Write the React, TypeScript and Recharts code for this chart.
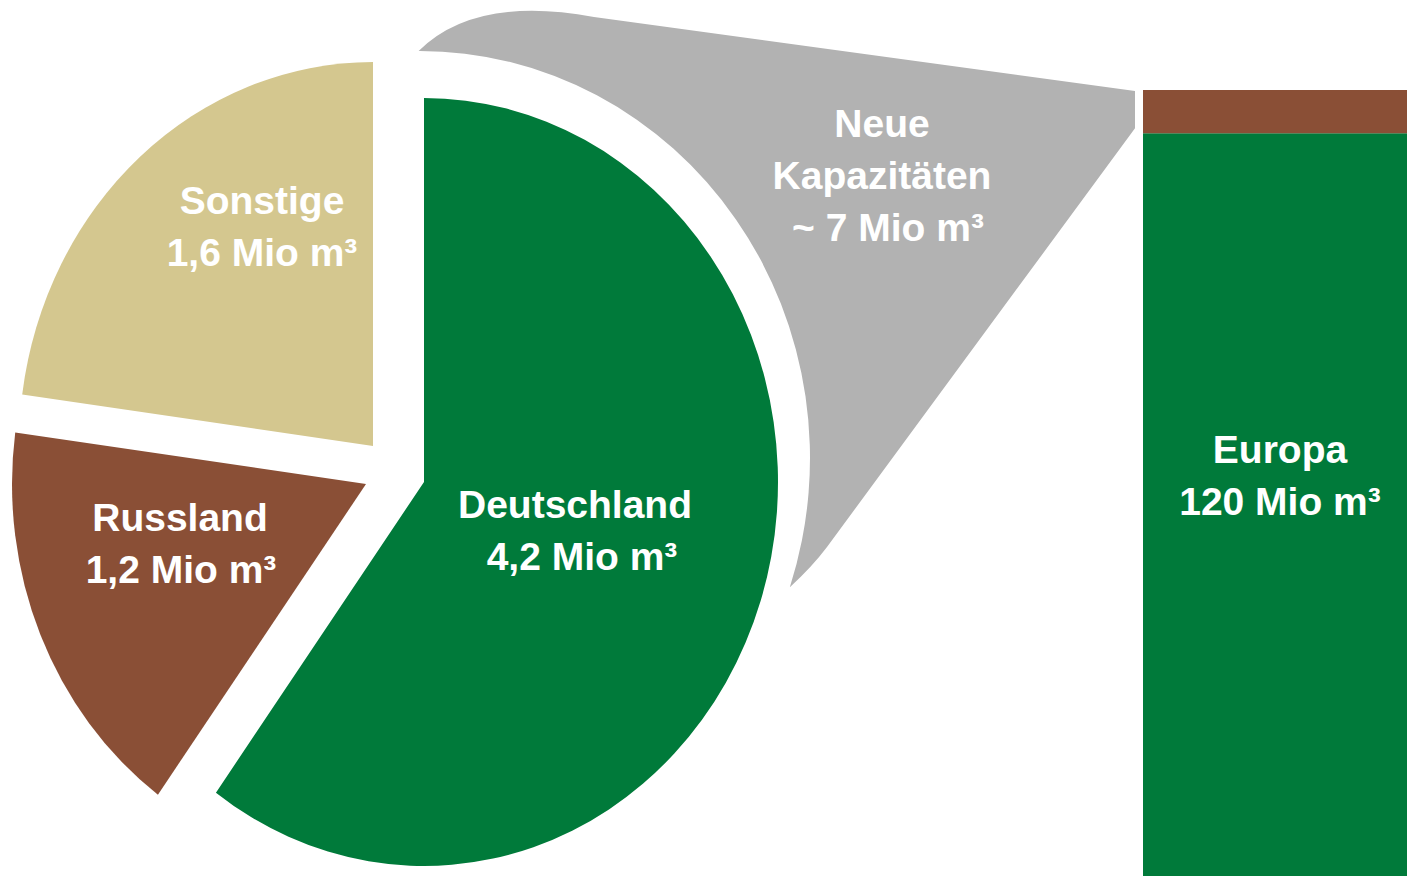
import React from 'react';
import { PieChart, Pie, Cell, BarChart, Bar, XAxis, YAxis, LabelList, Customized } from 'recharts';

// pie: Aufteilung der neuen Kapazitäten (Mio m³)
const SLICE_NAMES = ['Deutschland', 'Russland', 'Sonstige'];
const SLICE_VALUES = [4.2, 1.2, 1.6];
const SLICE_VALUE_LABELS = ['4,2 Mio m³', '1,2 Mio m³', '1,6 Mio m³'];

// connector label
const NEW_CAPACITY_LINES = ['Neue', 'Kapazitäten', '~ 7 Mio m³'];

// bar: Europa
const BAR_CATEGORIES = ['Europa'];
const BAR_EXISTING = [120];
const BAR_NEW = [7];
const BAR_LABEL_LINES = ['Europa', '120 Mio m³'];

const GREEN = '#007A3A';
const BROWN = '#8A4F36';
const TAN = '#D4C78F';
const GRAY = '#B2B2B2';

const SLICE_COLORS: Record<string, string> = {
  Deutschland: GREEN,
  Russland: BROWN,
  Sonstige: TAN,
};

// exploded slices (px)
const SLICE_OFFSET: Record<string, [number, number]> = {
  Deutschland: [0, 0],
  Russland: [-58, 2],
  Sonstige: [-51, -36],
};

// label anchors: centre x, first baseline, x shift of second line
const LABEL_POS: Record<string, { x: number; y: number; dx2: number }> = {
  Deutschland: { x: 575, y: 518, dx2: 7 },
  Russland: { x: 180, y: 531, dx2: 1 },
  Sonstige: { x: 262, y: 214, dx2: 0 },
};

const W = 1407;
const H = 876;
const PIE_CX = 424;
const PIE_CY = 482;
const PIE_R = 384;
const PIE_X_SCALE = 354 / 384;
const BAR_LEFT = 1143;
const BAR_WIDTH = 274;
const BAR_TOP = 90;
const LINE = 52;

const FONT = {
  fontFamily: '"Liberation Sans", Arial, sans-serif',
  fontWeight: 700,
  fontSize: 39,
  fill: '#fff',
};

const pieData = SLICE_NAMES.map((name, i) => ({
  name,
  value: SLICE_VALUES[i],
  label: SLICE_VALUE_LABELS[i],
}));

const barData = BAR_CATEGORIES.map((name, i) => ({
  name,
  existing: BAR_EXISTING[i],
  added: BAR_NEW[i],
}));

const RAD = Math.PI / 180;

// elliptical sector, the original slide is slightly squeezed horizontally
const EllipseSector = (props: any) => {
  const { cx, cy, outerRadius, startAngle, endAngle, fill } = props;
  const name = props.payload?.name ?? props.name;
  const [ox, oy] = SLICE_OFFSET[name] ?? [0, 0];
  const rx = outerRadius * PIE_X_SCALE;
  const ry = outerRadius;
  const x0 = cx + ox;
  const y0 = cy + oy;
  const pt = (a: number) => [x0 + rx * Math.cos(a * RAD), y0 - ry * Math.sin(a * RAD)];
  const [sx, sy] = pt(startAngle);
  const [ex, ey] = pt(endAngle);
  const large = Math.abs(startAngle - endAngle) > 180 ? 1 : 0;
  const sweep = startAngle > endAngle ? 1 : 0;
  return (
    <path
      d={`M${x0},${y0} L${sx},${sy} A${rx},${ry} 0 ${large} ${sweep} ${ex},${ey} Z`}
      fill={fill}
      stroke="none"
    />
  );
};

const renderPieLabel = (props: any) => {
  const name = props.payload?.name ?? props.name;
  const pos = LABEL_POS[name];
  if (!pos) return null;
  const value = props.payload?.label ?? '';
  return (
    <g>
      <text x={pos.x} y={pos.y} textAnchor="middle" {...FONT}>
        {name}
      </text>
      <text x={pos.x + pos.dx2} y={pos.y + LINE} textAnchor="middle" {...FONT}>
        {value}
      </text>
    </g>
  );
};

// grey callout from the pie to the top segment of the bar
const Connector = () => {
  const total = BAR_EXISTING[0] + BAR_NEW[0];
  const yOf = (v: number) => H - (v / total) * (H - BAR_TOP);
  const rTop = yOf(total) + 1;
  const rBottom = yOf(BAR_EXISTING[0]) - 5;
  const rx = BAR_LEFT - 8;

  const ecx = PIE_CX - 4;
  const ecy = PIE_CY - 24;
  const erx = PIE_R * PIE_X_SCALE + 36;
  const ery = PIE_R + 23;
  const t1 = [ecx + erx * Math.cos(90.2 * RAD), ecy - ery * Math.sin(90.2 * RAD)];
  const t2 = [ecx + erx * Math.cos(-18.5 * RAD), ecy - ery * Math.sin(-18.5 * RAD)];

  const d = [
    `M${t1[0]},${t1[1]}`,
    `Q475,-5 594,17`,
    `L${rx},${rTop}`,
    `L${rx},${rBottom}`,
    `L827,547`,
    `Q812,567 ${t2[0]},${t2[1]}`,
    `A${erx},${ery} 0 0 0 ${t1[0]},${t1[1]}`,
    'Z',
  ].join(' ');

  return (
    <g>
      <path d={d} fill={GRAY} stroke="none" />
      {NEW_CAPACITY_LINES.map((line, i) => (
        <text key={line} x={i === 2 ? 888 : 882} y={137 + i * LINE} textAnchor="middle" {...FONT}>
          {line}
        </text>
      ))}
    </g>
  );
};

const renderBarLabel = (props: any) => {
  const { x, y, width } = props;
  const cx = x + width / 2;
  return (
    <g>
      {BAR_LABEL_LINES.map((line, i) => (
        <text key={line} x={cx} y={y + 330 + i * LINE} textAnchor="middle" {...FONT}>
          {line}
        </text>
      ))}
    </g>
  );
};

export default function App() {
  return (
    <div
      style={{
        position: 'absolute',
        left: 0,
        top: 0,
        width: W,
        height: H,
        overflow: 'hidden',
        background: '#fff',
      }}
    >
      <div style={{ position: 'absolute', left: 0, top: 0 }}>
        <PieChart width={W} height={H} margin={{ top: 0, right: 0, bottom: 0, left: 0 }}>
          <Customized component={Connector} />
          <Pie
            data={pieData}
            dataKey="value"
            nameKey="name"
            cx={PIE_CX}
            cy={PIE_CY}
            outerRadius={PIE_R}
            startAngle={90}
            endAngle={-270}
            stroke="none"
            shape={EllipseSector}
            label={renderPieLabel}
            labelLine={false}
            isAnimationActive={false}
          >
            {pieData.map((d) => (
              <Cell key={d.name} fill={SLICE_COLORS[d.name]} />
            ))}
          </Pie>
        </PieChart>
      </div>
      <div style={{ position: 'absolute', left: BAR_LEFT, top: 0 }}>
        <BarChart
          width={BAR_WIDTH}
          height={H}
          data={barData}
          margin={{ top: BAR_TOP, right: 0, bottom: 0, left: 0 }}
          barCategoryGap={0}
        >
          <XAxis dataKey="name" hide />
          <YAxis hide domain={[0, 'dataMax']} />
          <Bar dataKey="existing" stackId="a" fill={GREEN} isAnimationActive={false}>
            <LabelList dataKey="existing" content={renderBarLabel} />
          </Bar>
          <Bar dataKey="added" stackId="a" fill={BROWN} isAnimationActive={false} />
        </BarChart>
      </div>
    </div>
  );
}
